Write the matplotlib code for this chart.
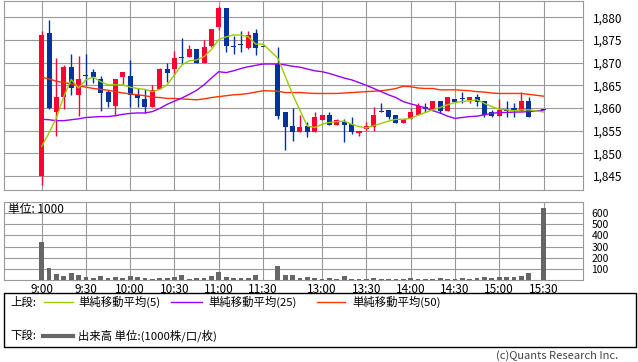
import numpy as np
import matplotlib
matplotlib.use('Agg')
import matplotlib.pyplot as plt
from matplotlib.lines import Line2D
from matplotlib.patches import Rectangle

# 日本語フォント
plt.rcParams['font.family'] = ['Noto Sans CJK JP', 'DejaVu Sans']
plt.rcParams['font.size'] = 8.5

# --- 1. データ (5分足) ---
times = ['9:00', '9:05', '9:10', '9:15', '9:20', '9:25', '9:30', '9:35', '9:40', '9:45',
         '9:50', '9:55', '10:00', '10:05', '10:10', '10:15', '10:20', '10:25', '10:30', '10:35',
         '10:40', '10:45', '10:50', '10:55', '11:00', '11:05', '11:10', '11:15', '11:20', '11:25',
         '11:30',
         '12:30', '12:35', '12:40', '12:45', '12:50', '12:55', '13:00', '13:05', '13:10', '13:15',
         '13:20', '13:25', '13:30', '13:35', '13:40', '13:45', '13:50', '13:55', '14:00', '14:05',
         '14:10', '14:15', '14:20', '14:25', '14:30', '14:35', '14:40', '14:45', '14:50', '14:55',
         '15:00', '15:05', '15:10', '15:15', '15:20', '15:30']

opens = [1845.0, 1876.5, 1859.0, 1862.4, 1869.0, 1862.9, 1867.0, 1867.9, 1866.3, 1863.5,
         1860.4, 1866.9, 1867.1, 1862.9, 1862.0, 1860.3, 1864.1, 1868.6, 1868.5, 1871.0,
         1871.3, 1872.9, 1869.9, 1873.7, 1877.9, 1882.1, 1873.4, 1873.9, 1873.3, 1876.5,
         1873.4,
         1869.7, 1859.1, 1856.0, 1854.8, 1856.0, 1854.8, 1857.3, 1858.4, 1856.3, 1857.0,
         1856.4, 1854.4, 1855.4, 1855.9, 1859.0, 1859.6, 1858.4, 1856.7, 1857.5, 1858.4,
         1860.3, 1859.8, 1861.5, 1859.4, 1862.0, 1862.0, 1861.8, 1862.4, 1861.5, 1859.0,
         1858.3, 1859.4, 1860.0, 1859.3, 1861.5, 1859.5]
highs = [1877.0, 1879.4, 1871.0, 1869.5, 1872.0, 1871.5, 1872.0, 1868.6, 1867.0, 1864.0,
         1866.4, 1867.9, 1870.6, 1864.3, 1864.2, 1865.0, 1868.8, 1869.9, 1872.6, 1875.4,
         1873.9, 1872.9, 1875.0, 1877.4, 1882.5, 1882.1, 1875.9, 1877.0, 1877.0, 1877.4,
         1873.4,
         1873.5, 1859.1, 1860.0, 1858.4, 1857.0, 1859.1, 1858.4, 1859.2, 1857.5, 1857.5,
         1858.0, 1855.0, 1856.9, 1860.2, 1861.0, 1859.6, 1858.4, 1857.5, 1860.1, 1861.2,
         1861.0, 1861.5, 1861.5, 1862.4, 1862.0, 1863.5, 1862.4, 1863.1, 1861.5, 1859.6,
         1862.0, 1861.5, 1861.2, 1863.5, 1862.4, 1859.5]
lows = [1842.9, 1859.8, 1853.9, 1859.8, 1862.9, 1858.3, 1865.1, 1865.4, 1859.4, 1860.2,
        1858.3, 1865.2, 1860.2, 1860.2, 1858.8, 1860.3, 1864.1, 1865.8, 1867.3, 1869.9,
        1871.3, 1869.9, 1869.9, 1873.4, 1877.2, 1872.4, 1871.8, 1872.4, 1873.0, 1871.7,
        1873.4,
        1857.5, 1850.7, 1852.8, 1854.8, 1853.5, 1854.8, 1857.3, 1856.2, 1856.3, 1852.4,
        1854.3, 1853.9, 1855.0, 1854.9, 1859.0, 1857.5, 1856.7, 1856.7, 1857.5, 1858.4,
        1859.2, 1859.8, 1858.8, 1859.4, 1861.4, 1861.2, 1861.0, 1860.4, 1857.9, 1857.9,
        1858.3, 1857.9, 1857.9, 1859.3, 1857.9, 1859.5]
closes = [1876.1, 1859.9, 1862.4, 1869.0, 1864.3, 1866.4, 1867.0, 1866.8, 1863.4, 1861.4,
          1866.4, 1867.9, 1862.9, 1862.3, 1860.3, 1864.0, 1868.6, 1867.8, 1871.0, 1871.0,
          1872.9, 1869.9, 1873.4, 1877.4, 1882.1, 1873.7, 1873.4, 1873.9, 1876.1, 1873.3,
          1873.4,
          1858.3, 1855.9, 1854.8, 1855.7, 1854.8, 1858.0, 1858.4, 1856.2, 1857.3, 1856.2,
          1854.8, 1855.0, 1856.0, 1858.4, 1859.0, 1857.9, 1856.7, 1857.5, 1859.0, 1860.4,
          1859.8, 1861.5, 1859.4, 1862.4, 1861.4, 1862.0, 1862.4, 1861.4, 1858.4, 1858.3,
          1859.6, 1859.4, 1859.3, 1861.6, 1857.9, 1859.5]

# 出来高 (単位: 1000)
volumes = [342, 110, 54, 38, 62, 45, 27, 18, 36, 18, 27, 18, 36, 27, 18, 9, 18, 18, 27, 45,
           9, 18, 18, 36, 71, 27, 18, 18, 18, 45, 4,
           125, 45, 45, 18, 27, 18, 9, 18, 9, 38, 9, 9, 9, 18, 9, 9, 9, 9, 18, 9,
           9, 9, 18, 9, 9, 18, 9, 18, 27, 18, 27, 27, 27, 36, 62, 650]

# 単純移動平均 (チャートから読み取り)
ma5 = [1851.5, 1854.5, 1857.8, 1862.5, 1866.3, 1864.4, 1866.2, 1866.8, 1865.8, 1865.1,
       1865.1, 1865.1, 1864.6, 1864.3, 1864.1, 1863.6, 1864.1, 1865.1, 1867.3, 1869.5,
       1870.4, 1870.6, 1871.3, 1872.9, 1875.1, 1875.7, 1876.1, 1876.1, 1875.7, 1874.1,
       1874.1,
       1871.0, 1867.0, 1863.0, 1859.5, 1856.0, 1855.7, 1856.4, 1856.8, 1857.0, 1857.1,
       1856.4, 1855.9, 1855.6, 1856.1, 1856.6, 1857.1, 1857.5, 1857.5, 1857.7, 1858.4,
       1859.0, 1859.6, 1860.1, 1860.7, 1861.2, 1861.4, 1861.6, 1861.8, 1861.0, 1860.3,
       1859.7, 1859.6, 1859.4, 1859.6, 1859.6, 1859.1]
ma25 = [1857.5, 1857.4, 1857.2, 1857.2, 1857.4, 1857.6, 1857.9, 1858.0, 1858.1, 1858.1,
        1858.3, 1858.6, 1858.8, 1858.9, 1858.9, 1859.2, 1859.9, 1860.8, 1861.5, 1862.2,
        1863.0, 1863.9, 1865.1, 1866.6, 1868.0, 1867.8, 1868.2, 1868.7, 1869.1, 1869.4,
        1869.7,
        1869.7, 1869.5, 1869.2, 1869.0, 1868.6, 1868.2, 1868.0, 1867.6, 1867.1, 1866.6,
        1866.2, 1865.6, 1865.0, 1864.3, 1863.6, 1862.9, 1862.3, 1861.4, 1860.9, 1860.5,
        1860.0, 1859.4, 1858.9, 1858.2, 1857.7, 1857.9, 1858.1, 1858.2, 1858.5, 1858.8,
        1859.0, 1859.0, 1859.1, 1859.1, 1859.2, 1859.5]
ma50 = [1866.8, 1866.4, 1865.9, 1865.6, 1865.3, 1864.9, 1864.6, 1864.3, 1864.1, 1863.9,
        1863.6, 1863.3, 1863.1, 1862.9, 1862.7, 1862.4, 1862.3, 1862.1, 1862.1, 1862.0,
        1861.9, 1861.8, 1862.0, 1862.3, 1862.5, 1862.7, 1862.9, 1863.0, 1863.2, 1863.5,
        1863.8,
        1863.7, 1863.4, 1863.4, 1863.4, 1863.3, 1863.2, 1863.2, 1863.2, 1863.2, 1863.3,
        1863.4, 1863.5, 1863.6, 1863.7, 1863.8, 1864.0, 1864.3, 1864.8, 1864.7, 1864.4,
        1864.3, 1864.3, 1864.0, 1864.0, 1864.0, 1863.9, 1863.8, 1863.6, 1863.5, 1863.3,
        1863.2, 1863.2, 1863.2, 1863.2, 1863.0, 1862.6]

tick_times = ['9:00', '9:30', '10:00', '10:30', '11:00', '11:30',
              '13:00', '13:30', '14:00', '14:30', '15:00', '15:30']
price_ticks = [1845, 1850, 1855, 1860, 1865, 1870, 1875, 1880]
vol_ticks = [100, 200, 300, 400, 500, 600]


# --- 2. 時刻 -> 横位置 (昼休みは1本分に圧縮) ---
def time_to_pos(t):
    h, m = map(int, t.split(':'))
    mins = h * 60 + m
    if mins <= 11 * 60 + 30:
        return (mins - 9 * 60) / 5
    return (mins - (12 * 60 + 30)) / 5 + 32


x = np.array([time_to_pos(t) for t in times])
o = np.array(opens)
h = np.array(highs)
l = np.array(lows)
c = np.array(closes)

W, H = 638, 362
GRID = '#999999'
fig = plt.figure(figsize=(W / 100, H / 100), dpi=100)


def px_axes(left, top, right, bottom):
    return fig.add_axes([left / W, 1 - bottom / H, (right - left) / W, (bottom - top) / H])


def style_axes(ax):
    for s in ax.spines.values():
        s.set_color(GRID)
        s.set_linewidth(0.8)
    ax.grid(True, color=GRID, lw=0.8)
    ax.set_axisbelow(True)
    ax.yaxis.tick_right()
    ax.set_xticks([time_to_pos(t) for t in tick_times])
    ax.set_xlim(-5.1, 73.35)


# --- 3. 上段: ローソク足 + 移動平均 ---
ax = px_axes(4, 1, 583, 190)
style_axes(ax)
up = c > o
cols = np.where(up, '#ff0033', '#003399')
ax.vlines(x, l, h, colors=cols, lw=1, zorder=3)
body_bottom = np.minimum(o, c)
body_h = np.maximum(np.abs(c - o), 0.25)
ax.bar(x, body_h, bottom=body_bottom, width=0.68, color=cols, lw=0, zorder=3)

ax.plot(x, ma50, color='#ff3300', lw=1, zorder=4)
ax.plot(x, ma25, color='#9900ff', lw=1, zorder=4)
ax.plot(x, ma5, color='#99cc00', lw=1, zorder=5)

ax.set_ylim(1841.9, 1883.6)
ax.set_yticks(price_ticks)
ax.set_yticklabels([f'{v:,}' for v in price_ticks])
ax.tick_params(axis='y', length=0, pad=7)
ax.tick_params(axis='x', length=0, labelbottom=False)

# --- 4. 下段: 出来高 ---
axv = px_axes(4, 202, 583, 280)
style_axes(axv)
axv.bar(x, volumes, width=0.65, color='#666666', lw=0, zorder=3)
axv.set_ylim(0, 700)
axv.set_yticks(vol_ticks)
axv.set_xticklabels(tick_times)
axv.tick_params(axis='y', length=0, pad=6, labelsize=7.5)
axv.tick_params(axis='x', length=0, pad=2)
fig.text(8 / W, 1 - 209 / H, '単位: 1000', va='center', ha='left')

# --- 5. 凡例 ---
fig.add_artist(Rectangle((4 / W, 1 - 347 / H), 632 / W, 54 / H, transform=fig.transFigure,
                         fill=False, edgecolor='black', lw=1))


def legend_line(x0, x1, y, color, lw):
    fig.add_artist(Line2D([x0 / W, x1 / W], [1 - y / H, 1 - y / H],
                          transform=fig.transFigure, color=color, lw=lw))


def legend_text(x0, y, s):
    fig.text(x0 / W, 1 - y / H, s, ha='left', va='center', fontsize=8.2)


y1, y2 = 302, 336
legend_text(10, y1, '上段:')
legend_line(44, 73, y1, '#99cc00', 1)
legend_text(78, y1, '単純移動平均(5)')
legend_line(171, 202, y1, '#9900ff', 1)
legend_text(208, y1, '単純移動平均(25)')
legend_line(317, 345, y1, '#ff3300', 1)
legend_text(352, y1, '単純移動平均(50)')

legend_text(10, y2, '下段:')
legend_line(43, 73, y2, '#666666', 3)
legend_text(78, y2, '出来高 単位:(1000株/口/枚)')

fig.text(618 / W, 1 - 356 / H, '(c)Quants Research Inc.', ha='right', va='center',
         color='#444444', fontsize=8)

fig.savefig('out.png', dpi=100)
